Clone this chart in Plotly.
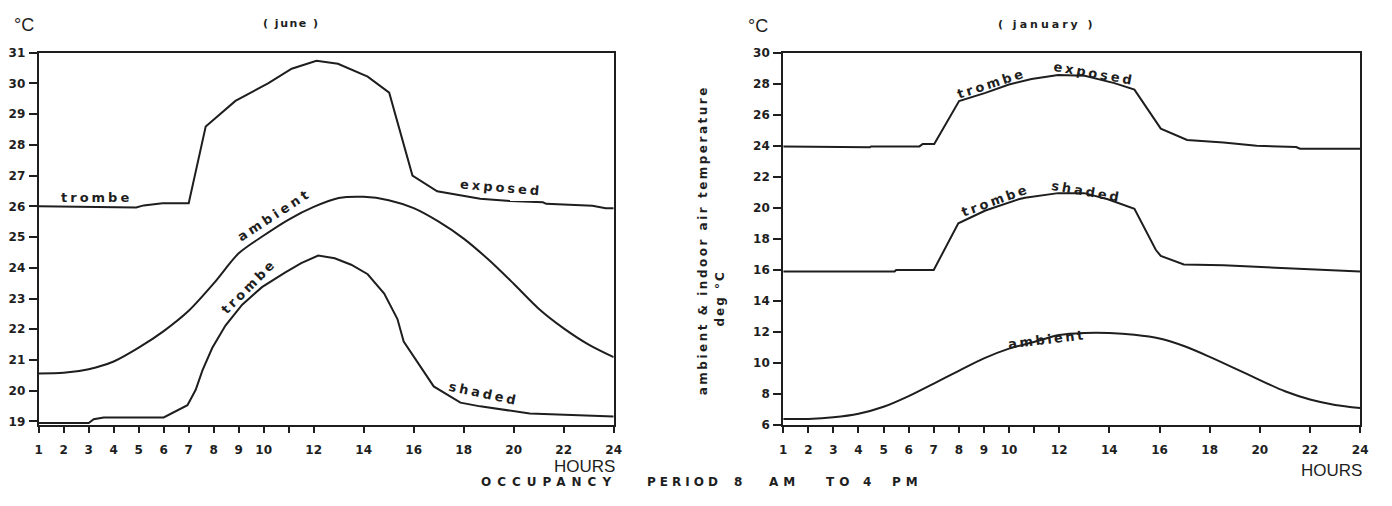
import plotly.graph_objects as go

# ---------------- data ----------------
# June (left panel)
jun_exposed_h = [1, 4.9, 5.2, 5.95, 7.0, 7.68, 8.87, 10.19, 11.12, 12.11, 12.97, 14.16, 15.02, 15.95, 16.94, 18.66, 19.85, 21.17, 21.3, 23.15, 23.68, 24]
jun_exposed_t = [26.0, 25.96, 26.03, 26.1, 26.1, 28.6, 29.43, 30.01, 30.48, 30.74, 30.64, 30.22, 29.7, 27.0, 26.49, 26.25, 26.17, 26.13, 26.08, 26.02, 25.94, 25.94]

jun_ambient_h = list(range(1, 25))
jun_ambient_t = [20.56, 20.58, 20.70, 20.95, 21.40, 21.94, 22.60, 23.49, 24.47, 25.05, 25.57, 25.98,
                 26.27, 26.31, 26.20, 25.94, 25.50, 24.95, 24.26, 23.48, 22.67, 22.03, 21.50, 21.09]

jun_shaded_h = [1, 3.0, 3.2, 3.6, 6.0, 6.95, 7.28, 7.55, 7.94, 8.47, 9.14, 9.93, 10.85, 11.5, 12.18, 12.84,
                13.5, 14.16, 14.82, 15.35, 15.6, 16.1, 16.8, 17.87, 18.66, 20.64, 22.63, 24]
jun_shaded_t = [18.95, 18.95, 19.07, 19.13, 19.13, 19.53, 20.03, 20.66, 21.39, 22.12, 22.8, 23.37, 23.84, 24.15, 24.4, 24.31,
                24.1, 23.79, 23.16, 22.33, 21.6, 21.0, 20.14, 19.61, 19.49, 19.26, 19.19, 19.16]

# January (right panel)
jan_exposed_h = [1, 4.45, 4.5, 6.43, 6.56, 7.02, 8.01, 9.06, 10.0, 10.9, 11.96, 13.02, 14.2, 15.0, 16.05, 17.1, 18.55, 19.87, 21.45, 21.6, 24]
jan_exposed_t = [23.96, 23.9, 23.96, 23.96, 24.12, 24.12, 26.88, 27.41, 27.95, 28.3, 28.56, 28.51, 28.04, 27.62, 25.11, 24.38, 24.21, 24.0, 23.92, 23.81, 23.81]

jan_shaded_h = [1, 5.44, 5.5, 7.0, 7.98, 9.06, 10.38, 10.64, 11.96, 13.0, 13.94, 15.0, 15.85, 16.05, 16.97, 18.55, 24]
jan_shaded_t = [15.9, 15.9, 16.0, 16.0, 19.0, 19.83, 20.55, 20.65, 20.95, 20.95, 20.55, 19.94, 17.3, 16.9, 16.35, 16.3, 15.9]

jan_ambient_h = list(range(1, 25))
jan_ambient_t = [6.4, 6.4, 6.5, 6.73, 7.18, 7.87, 8.68, 9.5, 10.3, 10.93, 11.36, 11.8,
                 11.93, 11.93, 11.82, 11.58, 11.08, 10.4, 9.66, 8.9, 8.18, 7.65, 7.3, 7.1]

x_tickvals = [1, 2, 3, 4, 5, 6, 7, 8, 9, 10, 11, 12, 14, 16, 18, 20, 22, 24]
x_ticklabels = ["1", "2", "3", "4", "5", "6", "7", "8", "9", "10", "", "12", "14", "16", "18", "20", "22", "24"]
jun_yticks = list(range(19, 32))
jan_yticks = list(range(6, 31, 2))

# ---------------- figure ----------------
W, H = 1392, 506
INK = "#1e1e1e"
LBL_FONT = "DejaVu Sans"

def px(x):
    return x / W

def py(y):
    return 1 - y / H

def bold(s):
    return f"<b>{s}</b>" if s != "" else ""

fig = go.Figure()
line_style = dict(color=INK, width=2)
spline_style = dict(color=INK, width=2, shape="spline", smoothing=0.8)

for h, t in [(jun_exposed_h, jun_exposed_t), (jun_shaded_h, jun_shaded_t)]:
    fig.add_trace(go.Scatter(x=h, y=t, mode="lines", line=line_style, xaxis="x", yaxis="y", showlegend=False))
fig.add_trace(go.Scatter(x=jun_ambient_h, y=jun_ambient_t, mode="lines", line=spline_style,
                         xaxis="x", yaxis="y", showlegend=False))
for h, t in [(jan_exposed_h, jan_exposed_t), (jan_shaded_h, jan_shaded_t)]:
    fig.add_trace(go.Scatter(x=h, y=t, mode="lines", line=line_style, xaxis="x2", yaxis="y2", showlegend=False))
fig.add_trace(go.Scatter(x=jan_ambient_h, y=jan_ambient_t, mode="lines", line=spline_style,
                         xaxis="x2", yaxis="y2", showlegend=False))

tick_font = dict(family=LBL_FONT, size=12, color=INK)
xcommon = dict(range=[1, 24], tickvals=x_tickvals, ticktext=[bold(s) for s in x_ticklabels],
               showline=True, linecolor=INK, linewidth=2, mirror=True, ticks="outside", ticklen=6,
               tickwidth=2, tickcolor=INK, tickfont=tick_font, showgrid=False, zeroline=False,
               ticklabelstandoff=6)
ycommon = dict(showline=True, linecolor=INK, linewidth=2, mirror=True, ticks="outside", ticklen=8,
               tickwidth=1.5, tickcolor=INK, tickfont=tick_font, showgrid=False, zeroline=False,
               ticklabelstandoff=1)

ydom = [py(430), py(47)]
fig.update_layout(
    width=W, height=H,
    margin=dict(l=0, r=0, t=0, b=0),
    paper_bgcolor="white", plot_bgcolor="white",
    xaxis=dict(domain=[px(35), px(615)], anchor="y", **xcommon),
    yaxis=dict(domain=ydom, anchor="x", range=[18.88, 31], tickvals=jun_yticks,
               ticktext=[bold(v) for v in jun_yticks], **ycommon),
    xaxis2=dict(domain=[px(786), px(1368)], anchor="y2", **xcommon),
    yaxis2=dict(domain=ydom, anchor="x2", range=[6, 30], tickvals=jan_yticks,
                ticktext=[bold(v) for v in jan_yticks], **ycommon),
)

def spaced(text, ls, is_bold=True):
    inner = f"<b>{text}</b>" if is_bold else text
    return f'<span style="letter-spacing:{ls}px">{inner}</span>' if ls else inner

def curve_label(text, x, y, axis, angle, size=13, ls=3):
    fig.add_annotation(text=spaced(text, ls), x=x, y=y, xref=f"x{axis}", yref=f"y{axis}",
                       showarrow=False, textangle=angle,
                       font=dict(family=LBL_FONT, size=size, color=INK))

def page_text(text, x, y, size, is_bold=False, family="Liberation Sans", angle=0, ls=0):
    fig.add_annotation(text=spaced(text, ls, is_bold), x=px(x), y=py(y), xref="paper", yref="paper",
                       showarrow=False, textangle=angle, xanchor="center", yanchor="middle",
                       font=dict(family=family, size=size, color=INK))

# curve labels, left (June)
curve_label("trombe", 3.3, 26.3, "", 0, ls=3)
curve_label("ambient", 10.45, 25.72, "", -33, ls=3.5)
curve_label("exposed", 19.5, 26.6, "", 5, ls=3)
curve_label("trombe", 9.4, 23.4, "", -45, ls=3)
curve_label("shaded", 18.8, 19.9, "", 12, ls=3)
# curve labels, right (January)
curve_label("trombe", 9.3, 28.0, "2", -18, ls=3)
curve_label("exposed", 13.4, 28.64, "2", 10, ls=3)
curve_label("trombe", 9.45, 20.45, "2", -20, ls=3)
curve_label("shaded", 13.1, 21.05, "2", 10, ls=3)
curve_label("ambient", 11.5, 11.5, "2", -7, ls=2.5)

# titles and units
page_text("°C", 20, 18, 18)
page_text("°C", 761, 20, 18)
page_text("( june )", 290, 17, 11, is_bold=True, family=LBL_FONT, ls=1.5)
page_text("( january )", 1052, 18, 11, is_bold=True, family=LBL_FONT, ls=3)
page_text("HOURS", 586, 473, 17)
page_text("HOURS", 1339, 477, 17)

# rotated y axis title of the right panel
page_text("ambient & indoor air temperature", 705, 240, 12, is_bold=True, family=LBL_FONT, angle=-90, ls=2.5)
page_text("deg °C", 722, 300, 12, is_bold=True, family=LBL_FONT, angle=-90, ls=2)

# footer
for word, cx, ls in [("OCCUPANCY", 550, 6), ("PERIOD", 686, 4), ("8", 740, 0), ("AM", 787, 5),
                     ("TO", 843, 5), ("4", 871, 0), ("PM", 911, 5)]:
    page_text(word, cx, 489, 12, is_bold=True, family=LBL_FONT, ls=ls)

fig.write_html("out.html")
